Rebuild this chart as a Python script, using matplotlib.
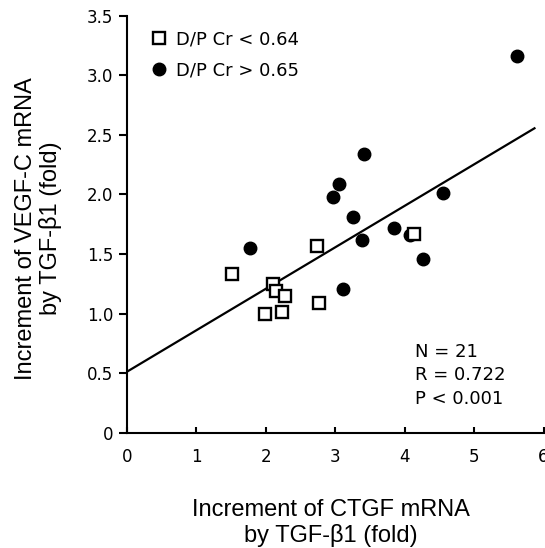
import matplotlib
matplotlib.use("Agg")
import matplotlib.pyplot as plt
from matplotlib.lines import Line2D

# ---- data ----
low_x = [4.13, 2.73, 1.51, 2.11, 2.14, 2.28, 2.76, 1.99, 2.23]
low_y = [1.665, 1.57, 1.33, 1.245, 1.19, 1.15, 1.085, 1.00, 1.01]

high_x = [5.62, 3.42, 3.06, 2.97, 3.26, 4.55, 3.84, 4.07, 3.38, 1.77, 4.27, 3.11]
high_y = [3.16, 2.34, 2.09, 1.98, 1.81, 2.01, 1.72, 1.66, 1.62, 1.55, 1.46, 1.21]

fit_x = [0.0, 5.87]
fit_y = [0.512, 2.555]

x_ticks = [0, 1, 2, 3, 4, 5, 6]
y_ticks = [0, 0.5, 1.0, 1.5, 2.0, 2.5, 3.0, 3.5]
y_tick_labels = ["0", "0.5", "1.0", "1.5", "2.0", "2.5", "3.0", "3.5"]

legend_labels = ["D/P Cr < 0.64", "D/P Cr > 0.65"]
stats_text = ["N = 21", "R = 0.722", "P < 0.001"]

x_label = "Increment of CTGF mRNA\nby TGF-β1 (fold)"
y_label = "Increment of VEGF-C mRNA\nby TGF-β1 (fold)"

# ---- figure ----
W, H = 545, 548
fig = plt.figure(figsize=(W / 100, H / 100), dpi=100)
ax = fig.add_axes([127 / W, 115.3 / H, 416.5 / W, 417 / H])

ax.plot(fit_x, fit_y, color="black", lw=1.6, zorder=2)
ax.plot(high_x, high_y, "o", ms=9, color="black", mec="black", zorder=3)
ax.plot(low_x, low_y, "s", ms=9, mfc="white", mec="black", mew=1.7, zorder=4)

ax.set_xlim(0, 6)
ax.set_ylim(0, 3.5)
ax.set_xticks(x_ticks)
ax.set_yticks(y_ticks)
ax.set_yticklabels(y_tick_labels)

for s in ["top", "right"]:
    ax.spines[s].set_visible(False)
for s in ["left", "bottom"]:
    ax.spines[s].set_linewidth(1.5)

ax.tick_params(axis="y", direction="out", length=6, width=1.5, pad=4,
               labelsize=12)
ax.tick_params(axis="x", direction="in", length=4, width=1.5, pad=11,
               labelsize=12)

ax.set_xlabel(x_label, fontsize=17, family="Liberation Sans", linespacing=1.15)
ax.set_ylabel(y_label, fontsize=17, family="Liberation Sans", linespacing=1.15)
ax.xaxis.set_label_coords(0.49, -0.16)
ax.yaxis.set_label_coords(-0.155, 0.49)

handles = [
    Line2D([], [], marker="s", ls="none", ms=9, mfc="white", mec="black", mew=1.7),
    Line2D([], [], marker="o", ls="none", ms=9, color="black"),
]
ax.legend(handles, legend_labels, loc="upper left", bbox_to_anchor=(0.03, 0.995),
          frameon=False, fontsize=13, handlelength=0.8, handletextpad=0.5,
          labelspacing=0.7, borderaxespad=0.3)

ax.text(0.692, 0.138, "\n".join(stats_text), transform=ax.transAxes,
        fontsize=13, va="center", ha="left", linespacing=1.4)

fig.savefig("out.png", dpi=100)
